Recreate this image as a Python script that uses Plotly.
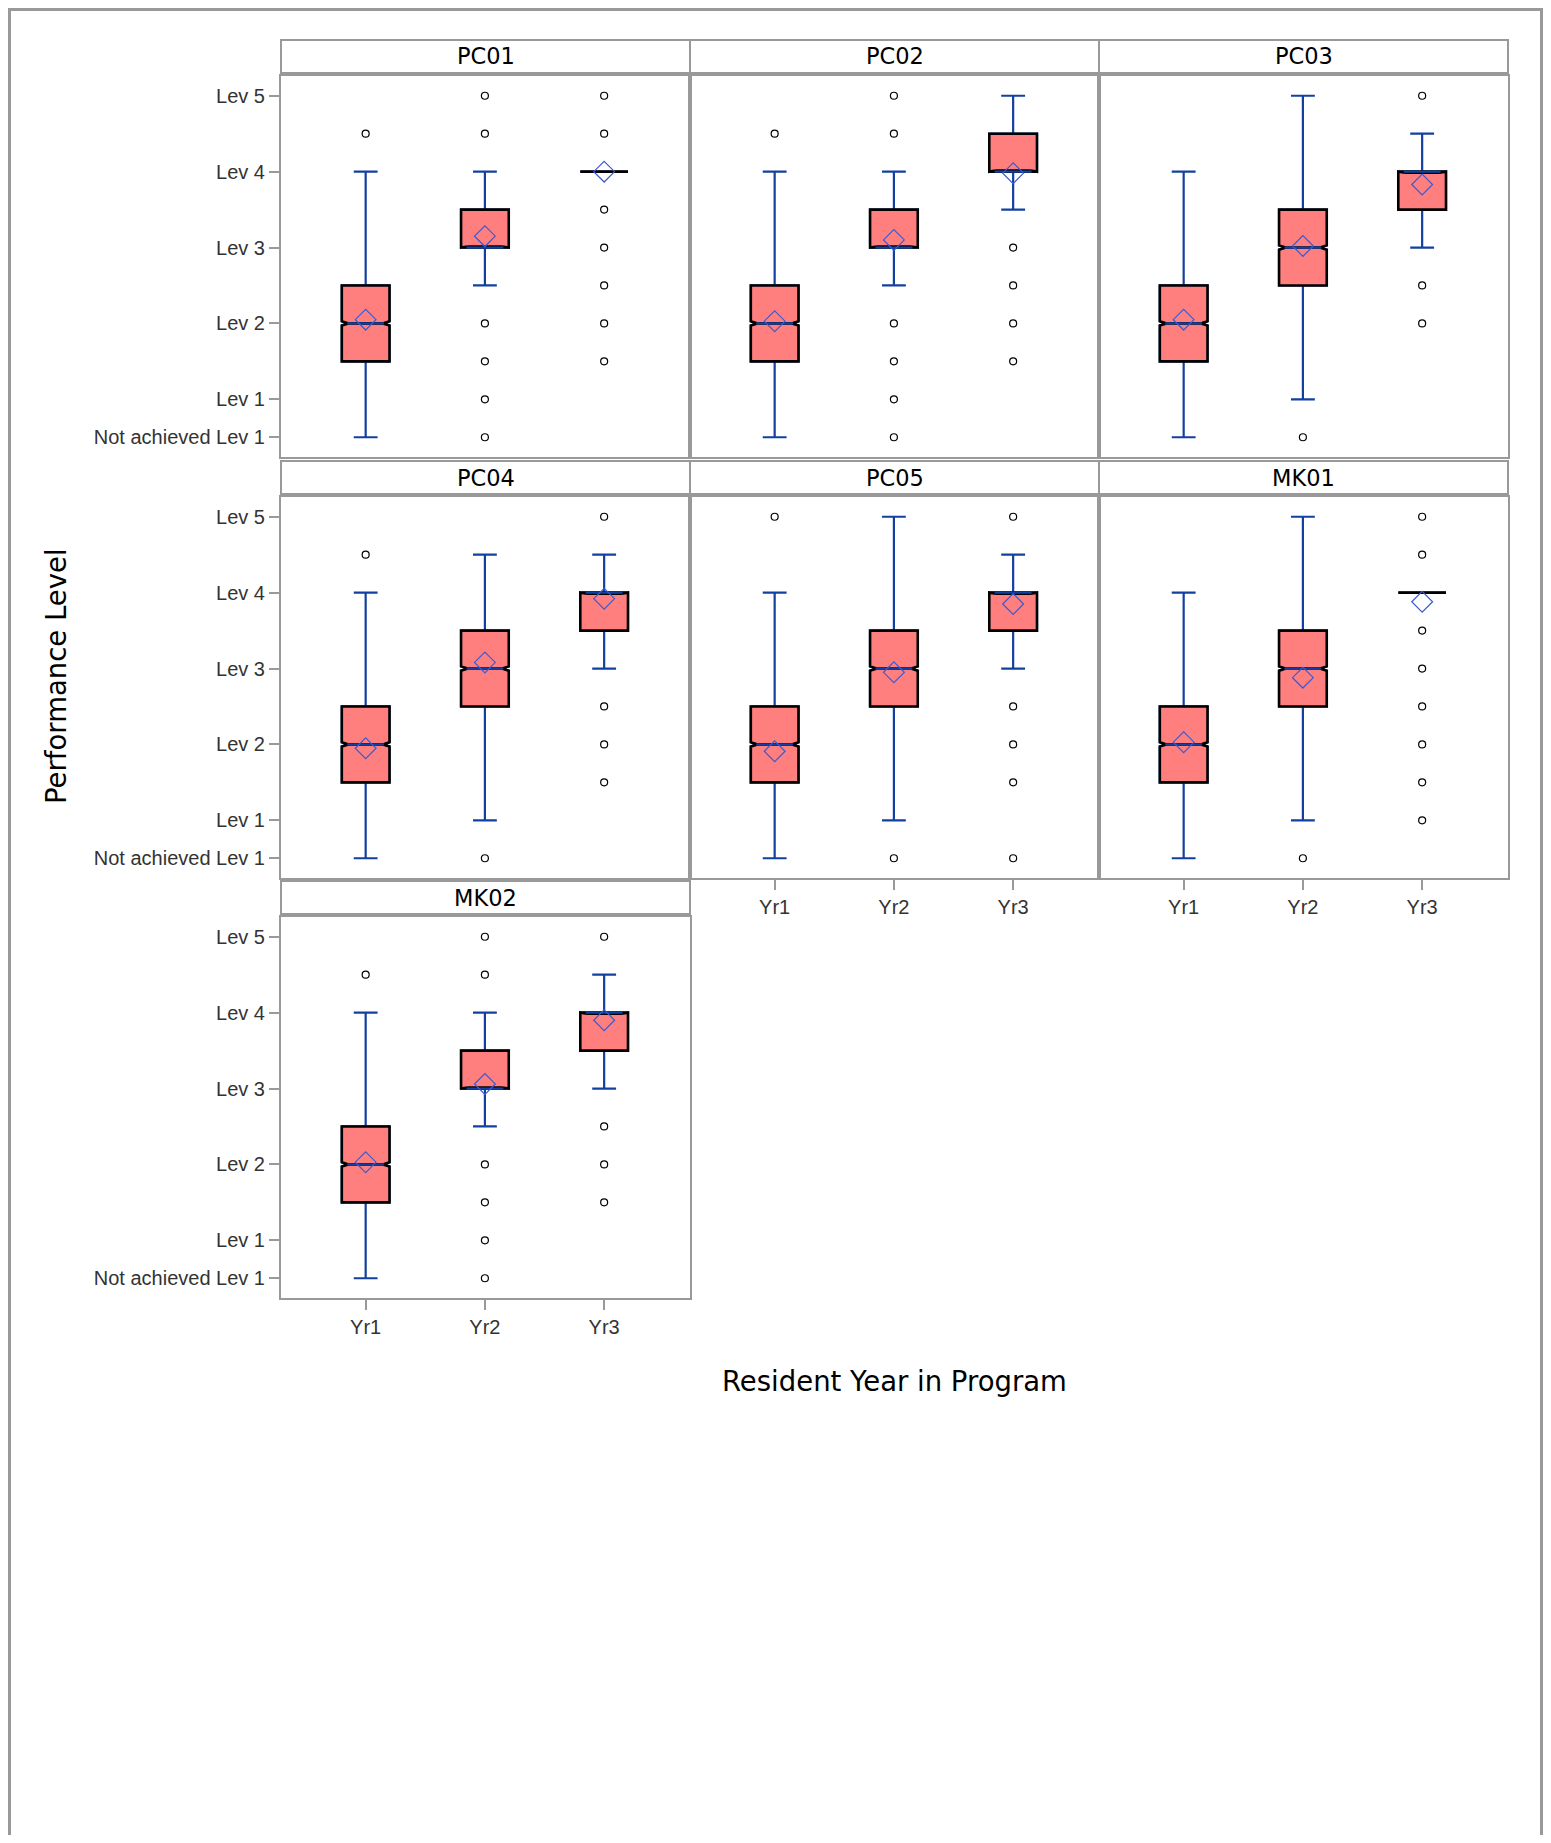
import plotly.graph_objects as go

# ---------------- data ----------------
panels = ["PC01", "PC02", "PC03", "PC04", "PC05", "MK01", "MK02"]
years = ["Yr1", "Yr2", "Yr3"]

level_vals = [0.5, 1, 2, 3, 4, 5]
level_text = ["Not achieved Lev 1", "Lev 1", "Lev 2", "Lev 3", "Lev 4", "Lev 5"]

# per panel, per year
q1_vals = [
    [1.5, 3.0, 4.0],
    [1.5, 3.0, 4.0],
    [1.5, 2.5, 3.5],
    [1.5, 2.5, 3.5],
    [1.5, 2.5, 3.5],
    [1.5, 2.5, 4.0],
    [1.5, 3.0, 3.5],
]
median_vals = [
    [2.0, 3.0, 4.0],
    [2.0, 3.0, 4.0],
    [2.0, 3.0, 4.0],
    [2.0, 3.0, 4.0],
    [2.0, 3.0, 4.0],
    [2.0, 3.0, 4.0],
    [2.0, 3.0, 4.0],
]
q3_vals = [
    [2.5, 3.5, 4.0],
    [2.5, 3.5, 4.5],
    [2.5, 3.5, 4.0],
    [2.5, 3.5, 4.0],
    [2.5, 3.5, 4.0],
    [2.5, 3.5, 4.0],
    [2.5, 3.5, 4.0],
]
low_whisker = [
    [0.5, 2.5, 4.0],
    [0.5, 2.5, 3.5],
    [0.5, 1.0, 3.0],
    [0.5, 1.0, 3.0],
    [0.5, 1.0, 3.0],
    [0.5, 1.0, 4.0],
    [0.5, 2.5, 3.0],
]
high_whisker = [
    [4.0, 4.0, 4.0],
    [4.0, 4.0, 5.0],
    [4.0, 5.0, 4.5],
    [4.0, 4.5, 4.5],
    [4.0, 5.0, 4.5],
    [4.0, 5.0, 4.0],
    [4.0, 4.0, 4.5],
]
mean_vals = [
    [2.05, 3.15, 4.00],
    [2.03, 3.10, 3.98],
    [2.05, 3.02, 3.83],
    [1.95, 3.08, 3.92],
    [1.91, 2.95, 3.85],
    [2.03, 2.88, 3.88],
    [2.03, 3.06, 3.90],
]
outliers = [
    [[4.5], [5, 4.5, 2, 1.5, 1, 0.5], [5, 4.5, 3.5, 3, 2.5, 2, 1.5]],
    [[4.5], [5, 4.5, 2, 1.5, 1, 0.5], [3, 2.5, 2, 1.5]],
    [[], [0.5], [5, 2.5, 2]],
    [[4.5], [0.5], [5, 2.5, 2, 1.5]],
    [[5], [0.5], [5, 2.5, 2, 1.5, 0.5]],
    [[], [0.5], [5, 4.5, 3.5, 3, 2.5, 2, 1.5, 1]],
    [[4.5], [5, 4.5, 2, 1.5, 1, 0.5], [5, 2.5, 2, 1.5]],
]

# ---------------- style ----------------
W, H = 1535, 1827
FILL = "#FF7F7F"
WHISK = "#1240A0"
MEAN_C = "#3A5BD0"
FRAME = "#999999"
TICK_FONT = dict(family="Liberation Sans, Arial, sans-serif", size=20, color="#333333")
HEAD_FONT = dict(family="DejaVu Sans, sans-serif", size=22.5, color="#000000")
TITLE_FONT = dict(family="DejaVu Sans, sans-serif", size=27.5, color="#000000")

col_left = [273, 682, 1091]
row_top = [68, 489, 909]
PW, PH = 409, 381
BOXW = 0.40
NOTCH_W = 0.14

fig = go.Figure()
shapes = []
annotations = []
layout_axes = {}

for i, name in enumerate(panels):
    r, c = divmod(i, 3)
    ax = "" if i == 0 else str(i + 1)
    xa, ya = "x" + ax, "y" + ax
    left, top = col_left[c], row_top[r]

    q1 = q1_vals[i]
    md = median_vals[i]
    q3 = q3_vals[i]
    nspan = [min(0.028, m - a, b - m) for a, m, b in zip(q1, md, q3)]

    # whiskers (blue)
    fig.add_trace(go.Box(
        x=years, q1=q1, median=md, q3=q3,
        lowerfence=low_whisker[i], upperfence=high_whisker[i],
        notched=True, notchspan=nspan, notchwidth=NOTCH_W,
        width=BOXW, whiskerwidth=0.5,
        line=dict(color=WHISK, width=2.2), fillcolor="rgba(0,0,0,0)",
        xaxis=xa, yaxis=ya, showlegend=False, hoverinfo="skip",
    ))
    # filled box with black outline
    fig.add_trace(go.Box(
        x=years, q1=q1, median=md, q3=q3,
        lowerfence=q1, upperfence=q3,
        notched=True, notchspan=nspan, notchwidth=NOTCH_W,
        width=BOXW, whiskerwidth=0.0,
        line=dict(color="#000000", width=2.6), fillcolor=FILL,
        xaxis=xa, yaxis=ya, showlegend=False, hoverinfo="skip",
    ))
    # blue median segment (only where the box has height)
    mx = [y for y, a, b in zip(years, q1, q3) if b > a]
    mm = [m for m, a, b in zip(md, q1, q3) if b > a]
    if mx:
        fig.add_trace(go.Box(
            x=mx, q1=mm, median=mm, q3=mm, lowerfence=mm, upperfence=mm,
            width=BOXW * (1 - NOTCH_W) * 0.9, whiskerwidth=0.0,
            line=dict(color=WHISK, width=2.2), fillcolor="rgba(0,0,0,0)",
            xaxis=xa, yaxis=ya, showlegend=False, hoverinfo="skip",
        ))
    # means
    fig.add_trace(go.Scatter(
        x=years, y=mean_vals[i], mode="markers",
        marker=dict(symbol="diamond-open", size=16, color=MEAN_C, line=dict(width=1.2, color=MEAN_C)),
        xaxis=xa, yaxis=ya, showlegend=False, hoverinfo="skip",
    ))
    # outliers
    ox, oy = [], []
    for yr, vals in zip(years, outliers[i]):
        for v in vals:
            ox.append(yr)
            oy.append(v)
    fig.add_trace(go.Scatter(
        x=ox, y=oy, mode="markers",
        marker=dict(symbol="circle-open", size=7, color="#000000", line=dict(width=1.2, color="#000000")),
        xaxis=xa, yaxis=ya, showlegend=False, hoverinfo="skip",
    ))

    show_y = (c == 0)
    show_x = (i >= 4)
    layout_axes["xaxis" + ax] = dict(
        domain=[left / W, (left + PW) / W], anchor=ya,
        type="category", categoryorder="array", categoryarray=years,
        range=[-0.71, 2.72], showgrid=False, zeroline=False,
        showline=True, mirror=True, linecolor=FRAME, linewidth=2,
        ticks="outside" if show_x else "", ticklen=10, tickwidth=2, tickcolor=FRAME,
        showticklabels=show_x, tickfont=TICK_FONT, fixedrange=True,
    )
    layout_axes["yaxis" + ax] = dict(
        domain=[1 - (top + PH) / H, 1 - top / H], anchor=xa,
        range=[0.24, 5.26], showgrid=False, zeroline=False,
        showline=True, mirror=True, linecolor=FRAME, linewidth=2,
        tickmode="array", tickvals=level_vals, ticktext=level_text,
        ticks="outside" if show_y else "", ticklen=10, tickwidth=2, tickcolor=FRAME,
        showticklabels=show_y, tickfont=TICK_FONT, fixedrange=True,
    )

    # header cell
    shapes.append(dict(
        type="rect", xref="paper", yref="paper",
        x0=left / W, x1=(left + PW) / W,
        y0=1 - (top - 3) / H, y1=1 - (top - 36) / H,
        line=dict(color=FRAME, width=2), fillcolor="white", layer="below",
    ))
    annotations.append(dict(
        text=name, xref="paper", yref="paper",
        x=(left + PW / 2) / W, y=1 - (top - 19.5) / H,
        xanchor="center", yanchor="middle", showarrow=False, font=HEAD_FONT,
    ))

# outer page border (bottom edge lies outside the canvas)
shapes.append(dict(
    type="rect", xref="paper", yref="paper",
    x0=1.5 / W, x1=(W - 1.5) / W, y0=-0.05, y1=1 - 1.5 / H,
    line=dict(color=FRAME, width=3), fillcolor="rgba(0,0,0,0)", layer="below",
))

annotations.append(dict(
    text="Performance Level", xref="paper", yref="paper",
    x=48 / W, y=1 - 668 / H, textangle=-90,
    xanchor="center", yanchor="middle", showarrow=False, font=TITLE_FONT,
))
annotations.append(dict(
    text="Resident Year in Program", xref="paper", yref="paper",
    x=886 / W, y=1 - 1373 / H,
    xanchor="center", yanchor="middle", showarrow=False, font=TITLE_FONT,
))

fig.update_layout(
    width=W, height=H, autosize=False,
    margin=dict(l=0, r=0, t=0, b=0),
    paper_bgcolor="white", plot_bgcolor="white",
    boxmode="overlay", showlegend=False,
    shapes=shapes, annotations=annotations,
    **layout_axes,
)

fig.write_html("out.html", config={"displayModeBar": False})
